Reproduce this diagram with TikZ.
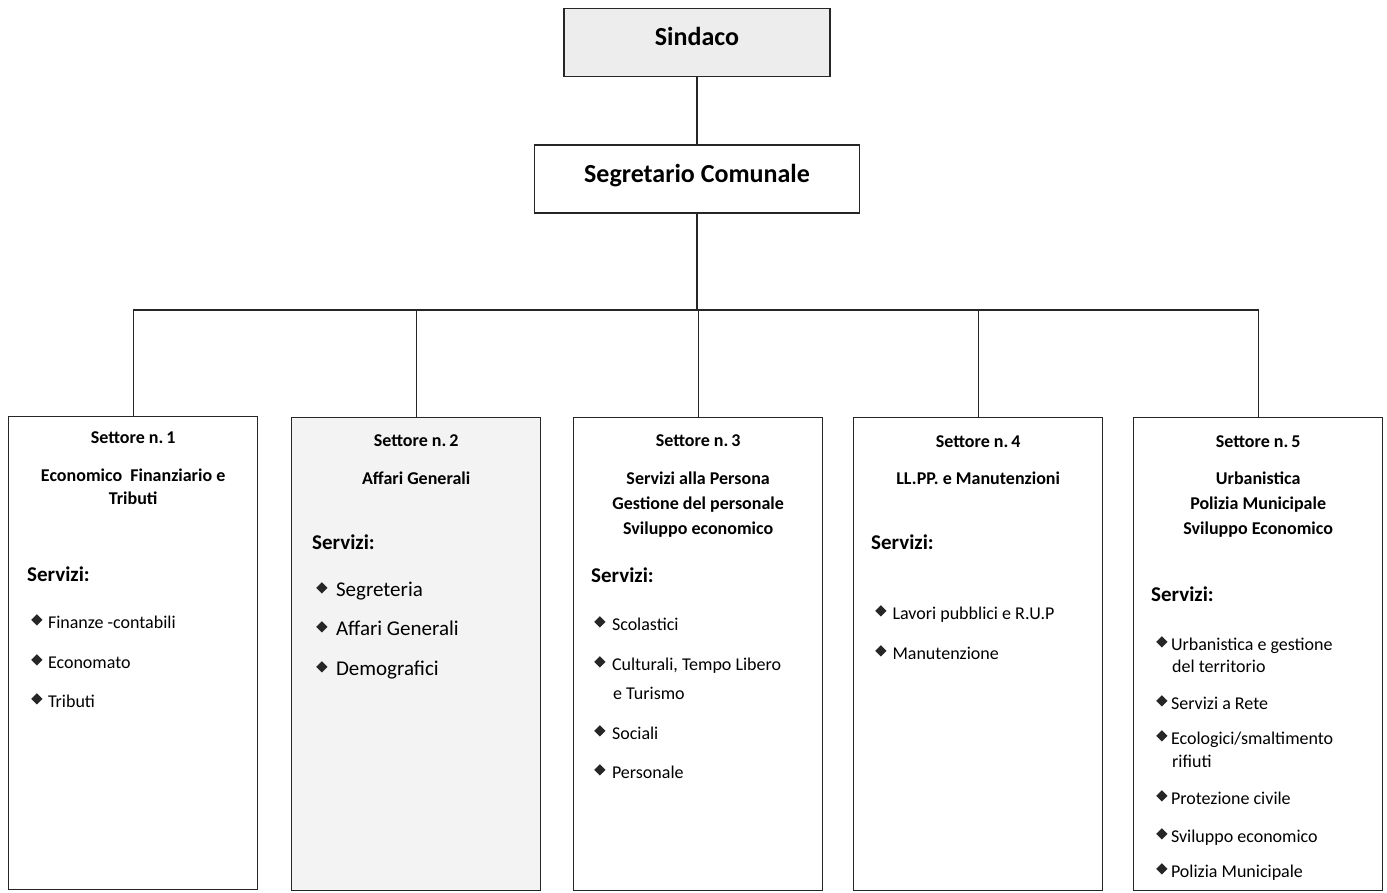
\documentclass[tikz,border=0pt]{standalone}
\usepackage{fontspec}
\setmainfont{Carlito}
\newcommand\dia{\raisebox{2.5pt}{\rotatebox{45}{\color{black!85}\rule{8pt}{8pt}}}}
\definecolor{boxgray}{HTML}{EDEDED}
\definecolor{lightgray2}{HTML}{F3F3F3}
\begin{document}
\begin{tikzpicture}[x=1pt,y=-1pt,
  ln/.style={line width=1.3pt, draw=black!85},
  topbox/.style={ln, inner sep=0pt, minimum height=68pt},
  toptext/.style={anchor=base, inner sep=0pt, font=\bfseries\fontsize{26}{30}\selectfont},
  secbox/.style={ln, inner sep=0pt, anchor=north west, minimum width=249pt, minimum height=473pt},
  hd/.style={anchor=base, font=\bfseries\fontsize{18}{22}\selectfont, inner sep=0pt},
  serv/.style={anchor=base west, font=\bfseries\fontsize{21}{25}\selectfont, inner sep=0pt},
  it/.style={anchor=base west, font=\fontsize{18}{22}\selectfont, inner sep=0pt},
  itb/.style={anchor=base west, font=\fontsize{21}{25}\selectfont, inner sep=0pt}]
\useasboundingbox (0,0) rectangle (1387,892);

% top boxes
\node[topbox, fill=boxgray, minimum width=266pt] (sind) at (697,42.5) {};
\node[toptext] (sindt) at (697,45) {Sindaco};
\node[topbox, minimum width=325pt] (seg) at (697,179) {};
\node[toptext] (segt) at (697,182.5) {Segretario Comunale};
\coordinate (bar) at (697,310);

% sector boxes
\node[secbox] (s1) at (8,416) {};
\node[secbox, fill=lightgray2] (s2) at (291,417) {};
\node[secbox] (s3) at (573,417) {};
\node[secbox] (s4) at (853,417) {};
\node[secbox] (s5) at (1133,417) {};

% connectors
\draw[ln] (sind.south) -- (seg.north);
\draw[ln] (seg.south) -- (bar);
\draw[ln] (s1.north) |- (bar) -| (s5.north);
\draw[ln] (s2.north) -- (s2.north |- bar);
\draw[ln] (s3.north) -- (s3.north |- bar);
\draw[ln] (s4.north) -- (s4.north |- bar);

% sector 1
\node[hd] (h1) at (s1.north |- 0,443) {Settore n.\,1};
\node[hd] (h1a) at (s1.north |- 0,481) {Economico\ \ Finanziario e};
\node[hd] (h1b) at (s1.north |- 0,504) {Tributi};
\node[serv] (v1) at (27,581) {Servizi:};
\node[it] (i11) at (31,628) {\dia\hspace{5.5pt}Finanze -contabili};
\node[it] (i12) at (31,668) {\dia\hspace{5.5pt}Economato};
\node[it] (i13) at (31,707) {\dia\hspace{5.5pt}Tributi};

% sector 2
\node[hd] (h2) at (s2.north |- 0,446) {Settore n.\,2};
\node[hd] (h2a) at (s2.north |- 0,484) {Affari Generali};
\node[serv] (v2) at (312,549) {Servizi:};
\node[itb] (i21) at (316,596) {\dia\hspace{8.5pt}Segreteria};
\node[itb] (i22) at (316,635) {\dia\hspace{8.5pt}Affari Generali};
\node[itb] (i23) at (316,675) {\dia\hspace{8.5pt}Demografici};

% sector 3
\node[hd] (h3) at (s3.north |- 0,446) {Settore n.\,3};
\node[hd] (h3a) at (s3.north |- 0,484) {Servizi alla Persona};
\node[hd] (h3b) at (s3.north |- 0,509) {Gestione del personale};
\node[hd] (h3c) at (s3.north |- 0,534) {Sviluppo economico};
\node[serv] (v3) at (591,582) {Servizi:};
\node[it] (i31) at (594,630) {\dia\hspace{6.5pt}Scolastici};
\node[it] (i32) at (594,670) {\dia\hspace{6.5pt}Culturali, Tempo Libero};
\node[it] (i32b) at (613,699) {e Turismo};
\node[it] (i33) at (594,739) {\dia\hspace{6.5pt}Sociali};
\node[it] (i34) at (594,778) {\dia\hspace{6.5pt}Personale};

% sector 4
\node[hd] (h4) at (s4.north |- 0,447) {Settore n.\,4};
\node[hd] (h4a) at (s4.north |- 0,484) {LL.PP. e Manutenzioni};
\node[serv] (v4) at (871,549) {Servizi:};
\node[it] (i41) at (875,619) {\dia\hspace{6pt}Lavori pubblici e R.U.P};
\node[it] (i42) at (875,659) {\dia\hspace{6pt}Manutenzione};

% sector 5
\node[hd] (h5) at (s5.north |- 0,447) {Settore n.\,5};
\node[hd] (h5a) at (s5.north |- 0,484) {Urbanistica};
\node[hd] (h5b) at (s5.north |- 0,509) {Polizia Municipale};
\node[hd] (h5c) at (s5.north |- 0,534) {Sviluppo Economico};
\node[serv] (v5) at (1151,601) {Servizi:};
\node[it] (i51) at (1156,650) {\dia\hspace{3.5pt}Urbanistica e gestione};
\node[it] (i51b) at (1172,672) {del territorio};
\node[it] (i52) at (1156,709) {\dia\hspace{3.5pt}Servizi a Rete};
\node[it] (i53) at (1156,744) {\dia\hspace{3.5pt}Ecologici/smaltimento};
\node[it] (i53b) at (1172,767) {rifiuti};
\node[it] (i54) at (1156,804) {\dia\hspace{3.5pt}Protezione civile};
\node[it] (i55) at (1156,842) {\dia\hspace{3.5pt}Sviluppo economico};
\node[it] (i56) at (1156,877) {\dia\hspace{3.5pt}Polizia Municipale};
\end{tikzpicture}
\end{document}
